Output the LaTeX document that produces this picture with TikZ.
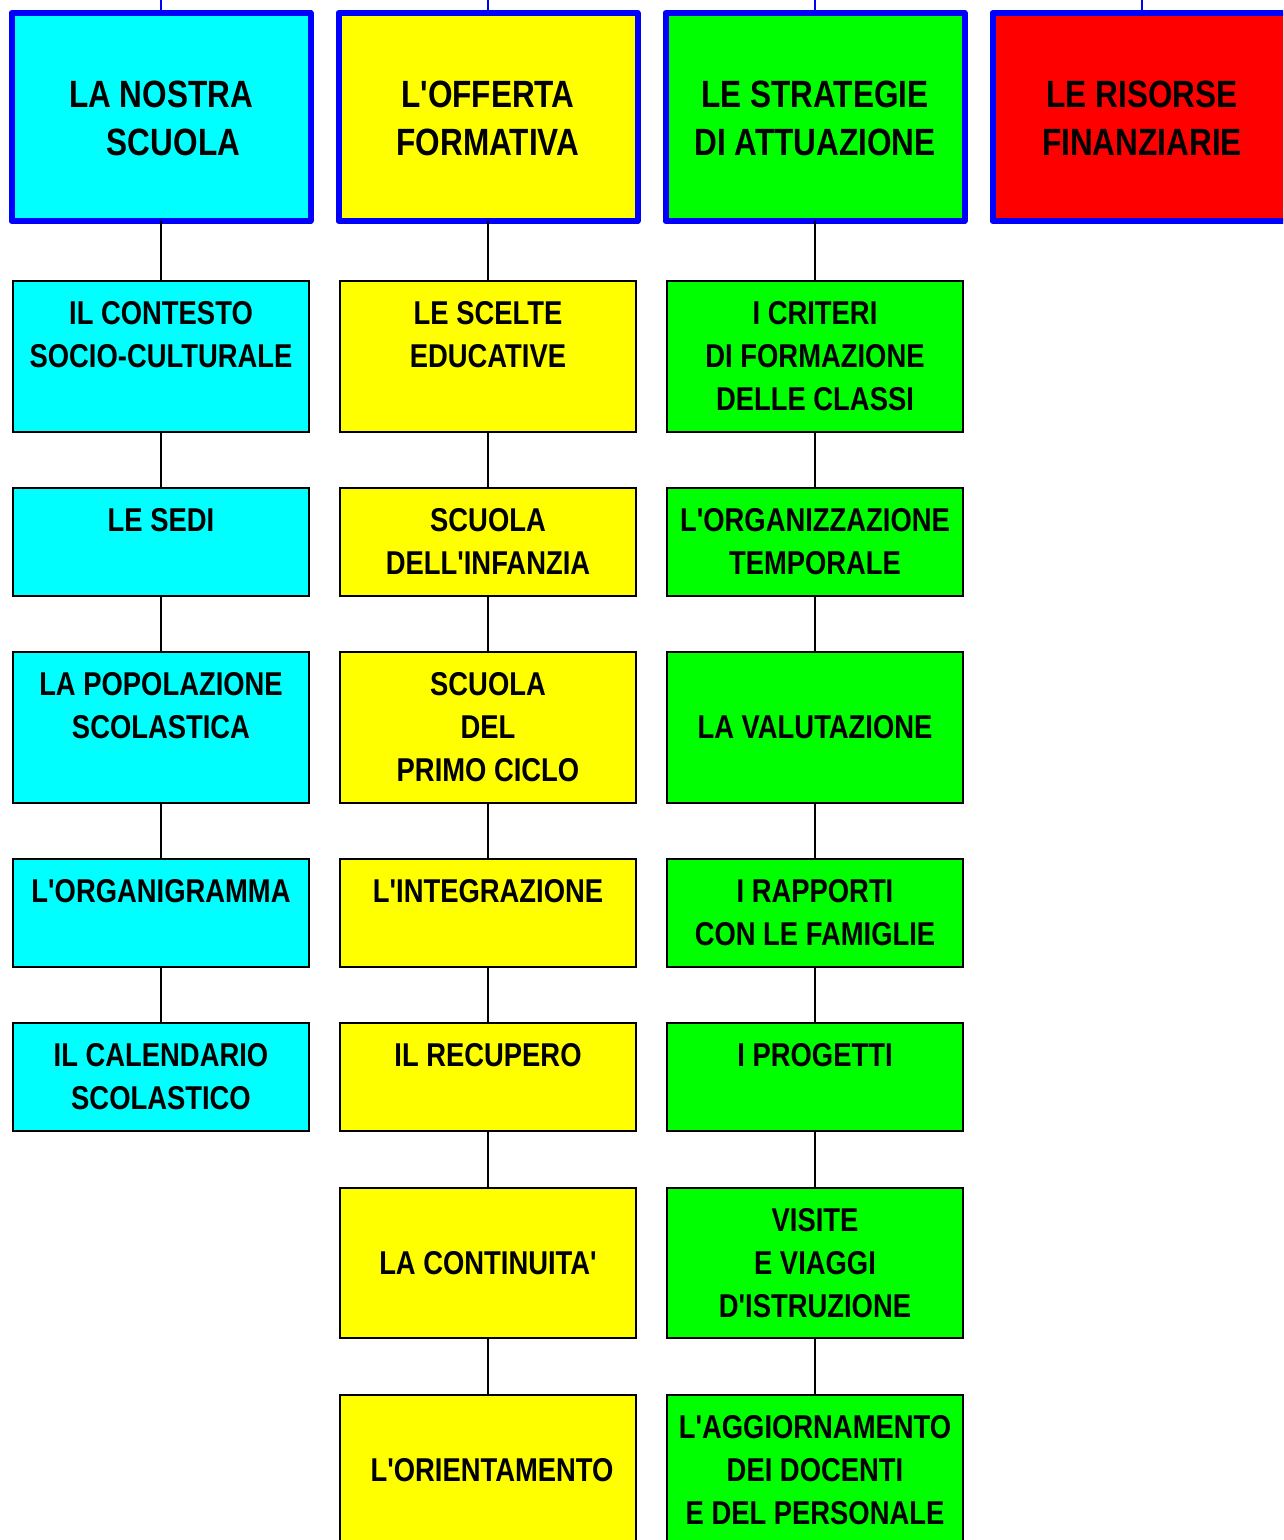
\documentclass[tikz,border=0pt]{standalone}
\usepackage{fontspec}
\newfontfamily\narrowfont{Liberation Sans}[FakeStretch=0.83]
\definecolor{ccyan}{RGB}{0,255,255}
\definecolor{cyell}{RGB}{255,255,0}
\definecolor{cgreen}{RGB}{0,255,0}
\definecolor{cred}{RGB}{255,0,0}
\definecolor{cblue}{RGB}{0,0,255}
\begin{document}
\begin{tikzpicture}[x=1pt,y=-1pt,
  topbox/.style={draw=cblue, line width=6pt, line join=round, inner sep=0pt, outer sep=0pt, minimum width=299pt, minimum height=208pt},
  subbox/.style={draw=black, line width=2pt, inner sep=0pt, outer sep=0pt, minimum width=296pt},
  toptxt/.style={font=\narrowfont\fontsize{38}{48}\selectfont\bfseries, align=center, anchor=base, inner sep=0pt},
  subtxt/.style={font=\narrowfont\fontsize{33}{43}\selectfont\bfseries, align=center, anchor=base, inner sep=0pt},
  link/.style={draw=black, line width=1.5pt},
  toplink/.style={draw=cblue, line width=1.5pt}]
\useasboundingbox (0,0) rectangle (1283,1540);
\clip (0,0) rectangle (1283,1540);
% top boxes
\node[topbox, fill=ccyan] (T1) at (161,117) {};
\node[topbox, fill=cyell] (T2) at (488,117) {};
\node[topbox, fill=cgreen] (T3) at (815,117) {};
\node[topbox, fill=cred] (T4) at (1142,117) {};
\node[toptxt] (tt1) at (161,155) {LA NOSTRA\\\hspace*{25pt}SCUOLA};
\node[toptxt] (tt2) at (488,155) {L'OFFERTA\\FORMATIVA};
\node[toptxt] (tt3) at (815,155) {LE STRATEGIE\\DI ATTUAZIONE};
\node[toptxt] (tt4) at (1142,155) {LE RISORSE\\FINANZIARIE};
\coordinate (u1) at (161,0);
\coordinate (u2) at (488,0);
\coordinate (u3) at (815,0);
\coordinate (u4) at (1142,0);
\draw[toplink] (u1) -- (T1);
\draw[toplink] (u2) -- (T2);
\draw[toplink] (u3) -- (T3);
\draw[toplink] (u4) -- (T4);
% column 1
\node[subbox, fill=ccyan, minimum height=151pt] (A1) at (161,356.5) {};
\node[subbox, fill=ccyan, minimum height=108pt] (A2) at (161,542) {};
\node[subbox, fill=ccyan, minimum height=151pt] (A3) at (161,727.5) {};
\node[subbox, fill=ccyan, minimum height=108pt] (A4) at (161,913) {};
\node[subbox, fill=ccyan, minimum height=108pt] (A5) at (161,1077) {};
% column 2
\node[subbox, fill=cyell, minimum height=151pt] (B1) at (488,356.5) {};
\node[subbox, fill=cyell, minimum height=108pt] (B2) at (488,542) {};
\node[subbox, fill=cyell, minimum height=151pt] (B3) at (488,727.5) {};
\node[subbox, fill=cyell, minimum height=108pt] (B4) at (488,913) {};
\node[subbox, fill=cyell, minimum height=108pt] (B5) at (488,1077) {};
\node[subbox, fill=cyell, minimum height=150pt] (B6) at (488,1263) {};
\node[subbox, fill=cyell, minimum height=151pt] (B7) at (488,1470.5) {};
% column 3
\node[subbox, fill=cgreen, minimum height=151pt] (C1) at (815,356.5) {};
\node[subbox, fill=cgreen, minimum height=108pt] (C2) at (815,542) {};
\node[subbox, fill=cgreen, minimum height=151pt] (C3) at (815,727.5) {};
\node[subbox, fill=cgreen, minimum height=108pt] (C4) at (815,913) {};
\node[subbox, fill=cgreen, minimum height=108pt] (C5) at (815,1077) {};
\node[subbox, fill=cgreen, minimum height=150pt] (C6) at (815,1263) {};
\node[subbox, fill=cgreen, minimum height=151pt] (C7) at (815,1470.5) {};
% connectors
\draw[link] (T1) -- (A1);
\draw[link] (A1) -- (A2);
\draw[link] (A2) -- (A3);
\draw[link] (A3) -- (A4);
\draw[link] (A4) -- (A5);
\draw[link] (T2) -- (B1);
\draw[link] (B1) -- (B2);
\draw[link] (B2) -- (B3);
\draw[link] (B3) -- (B4);
\draw[link] (B4) -- (B5);
\draw[link] (B5) -- (B6);
\draw[link] (B6) -- (B7);
\draw[link] (T3) -- (C1);
\draw[link] (C1) -- (C2);
\draw[link] (C2) -- (C3);
\draw[link] (C3) -- (C4);
\draw[link] (C4) -- (C5);
\draw[link] (C5) -- (C6);
\draw[link] (C6) -- (C7);
% texts column 1 (anchor = baseline of last line)
\node[subtxt] (a1) at (161,367) {IL CONTESTO\\SOCIO-CULTURALE};
\node[subtxt] (a2) at (161,531) {LE SEDI};
\node[subtxt] (a3) at (161,738) {LA POPOLAZIONE\\SCOLASTICA};
\node[subtxt] (a4) at (161,902) {L'ORGANIGRAMMA};
\node[subtxt] (a5) at (161,1109) {IL CALENDARIO\\SCOLASTICO};
% texts column 2
\node[subtxt] (b1) at (488,367) {LE SCELTE\\EDUCATIVE};
\node[subtxt] (b2) at (488,574) {SCUOLA\\DELL'INFANZIA};
\node[subtxt] (b3) at (488,781) {SCUOLA\\DEL\\PRIMO CICLO};
\node[subtxt] (b4) at (488,902) {L'INTEGRAZIONE};
\node[subtxt] (b5) at (488,1066) {IL RECUPERO};
\node[subtxt] (b6) at (488,1274) {LA CONTINUITA'};
\node[subtxt] (b7) at (492,1481) {L'ORIENTAMENTO};
% texts column 3
\node[subtxt] (c1) at (815,410) {I CRITERI\\DI FORMAZIONE\\DELLE CLASSI};
\node[subtxt] (c2) at (815,574) {L'ORGANIZZAZIONE\\TEMPORALE};
\node[subtxt] (c3) at (815,738) {LA VALUTAZIONE};
\node[subtxt] (c4) at (815,945) {I RAPPORTI\\CON LE FAMIGLIE};
\node[subtxt] (c5) at (815,1066) {I PROGETTI};
\node[subtxt] (c6) at (815,1317) {VISITE\\E VIAGGI\\D'ISTRUZIONE};
\node[subtxt] (c7) at (815,1524) {L'AGGIORNAMENTO\\DEI DOCENTI\\E DEL PERSONALE};
\end{tikzpicture}
\end{document}
